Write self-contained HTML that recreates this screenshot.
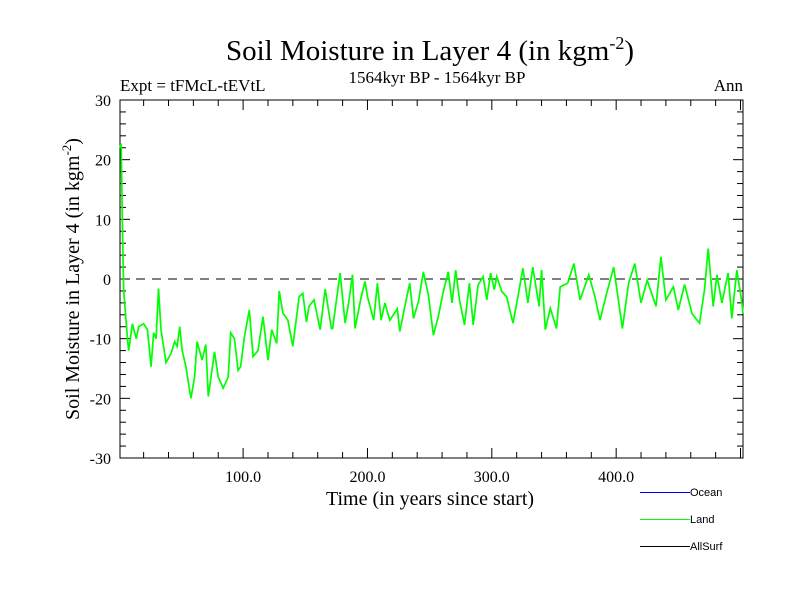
<!DOCTYPE html>
<html><head><meta charset="utf-8"><style>
body{margin:0;background:#fff}
svg{display:block;font-family:"Liberation Serif",serif}
</style></head><body>
<svg id="c" width="800" height="600">
<text x="430" y="60" font-size="29" text-anchor="middle">Soil Moisture in Layer 4 (in kgm<tspan dy="-11" font-size="18">-2</tspan><tspan dy="11">)</tspan></text>
<text x="120" y="91" font-size="17">Expt = tFMcL-tEVtL</text>
<text x="437" y="83" font-size="17" text-anchor="middle">1564kyr BP - 1564kyr BP</text>
<text x="743" y="91" font-size="17" text-anchor="end">Ann</text>
<text x="430" y="505" font-size="20" text-anchor="middle">Time (in years since start)</text>
<text transform="translate(79,279) rotate(-90)" font-size="20" text-anchor="middle">Soil Moisture in Layer 4 (in kgm<tspan dy="-8" font-size="13">-2</tspan><tspan dy="8">)</tspan></text>
<g id="axes"></g>
<g id="series"></g>
<g font-family="Liberation Sans, sans-serif" font-size="11">
<rect x="640" y="492" width="50" height="1" fill="#0000ff"/>
<text x="690" y="496">Ocean</text>
<rect x="640" y="519" width="50" height="1" fill="#00ff00"/>
<text x="690" y="523">Land</text>
<rect x="640" y="546" width="50" height="1" fill="#000000"/>
<text x="690" y="550">AllSurf</text>
</g>
</svg>
<script>
const years=[1,2,3,4,7,8,11,14,16,20,23,26,28,30,32,34,38,42,45,47,49,51,54,58,61,63,67,70,72,77,80,84,88,90,93,96,98,101,105,108,112,116,120,123,127,129,132,136,140,145,148,151,153,157,162,166,171,172,178,182,185,188,190,195,198,200,205,208,211,214,218,224,226,230,234,237,241,245,249,253,257,261,265,268,271,274,278,282,285,289,293,296,299,302,304,308,312,317,321,325,329,333,338,340,343,347,350,352,355,361,366,371,378,383,387,392,398,405,410,415,420,425,432,436,440,446,450,455,461,467,471,474,478,481,485,490,493,497,501,502];
const landValues=[22,22.7,8,-2,-10,-12,-7.5,-10,-8,-7.5,-8.5,-14.7,-9,-10,-1.6,-8.5,-14,-12.5,-10.5,-11.3,-8,-12,-14.7,-20,-16.4,-10.5,-13.6,-11,-19.7,-12.2,-16.4,-18.3,-16.4,-9,-10,-15.3,-14.7,-9.7,-5.2,-13,-12,-6.3,-13.6,-8.5,-10.8,-2,-5.7,-6.9,-11.3,-3,-2.4,-7.2,-4.6,-3.5,-8.5,-1.7,-8.3,-8.3,1,-7.4,-3.8,0.7,-8.3,-3,-0.4,-3,-6.9,-0.7,-6.9,-4,-6.9,-5,-8.8,-4.6,-0.7,-6.6,-3.8,1.2,-2.7,-9.4,-6.3,-2.1,1.2,-4,1.5,-3.5,-7.7,-0.7,-7.7,-1,0.4,-3.5,1,-1.8,0.4,-2.1,-3,-7.4,-3,1.8,-4,2,-4.6,1.5,-8.5,-4.9,-6.9,-8.3,-1.3,-0.7,2.6,-3.5,0.7,-3,-6.9,-2.7,2,-8.3,-0.7,2.6,-4,-0.2,-4.6,3.7,-3.5,-1.3,-5.2,-0.9,-5.8,-7.4,-1.8,5.1,-4.6,0.7,-4,1,-6.6,1.5,-3.8,-5.8];
const yTicks=[-30,-20,-10,0,10,20,30];
const xTickLabels=[100,200,300,400];
const NS='http://www.w3.org/2000/svg';
const L=120,R=743,T=100,B=458;
const xs=t=>L+(t-1)*(R-L)/(502-1);
const ys=v=>B-(v+30)*(B-T)/60;
function mk(tag,attrs,parent){const e=document.createElementNS(NS,tag);for(const k in attrs)e.setAttribute(k,attrs[k]);parent.appendChild(e);return e;}
const ax=document.getElementById('axes');
const fr=mk('rect',{x:L,y:T,width:R-L,height:B-T,fill:'none',stroke:'#000','stroke-width':1},ax);


for(let v=-30;v<=30;v+=2){const y=ys(v);const len=v%10===0?10:6;
 mk('line',{x1:L,y1:y,x2:L+len,y2:y,stroke:'#000'},ax);mk('line',{x1:R,y1:y,x2:R-len,y2:y,stroke:'#000'},ax);}
for(let t=20;t<=500;t+=20){const x=xs(t);const len=t%100===0?10:6;
 mk('line',{x1:x,y1:B,x2:x,y2:B-len,stroke:'#000'},ax);mk('line',{x1:x,y1:T,x2:x,y2:T+len,stroke:'#000'},ax);}
yTicks.forEach(v=>{const e=mk('text',{x:L-9,y:ys(v)+6,'font-size':16,'text-anchor':'end'},ax);e.textContent=v;
 
 });
xTickLabels.forEach(t=>{const e=mk('text',{x:xs(t),y:B+24,'font-size':16,'text-anchor':'middle'},ax);e.textContent=t.toFixed(1);
 
 });
const zl=mk('line',{x1:L,y1:ys(0),x2:R,y2:ys(0),stroke:'#555','stroke-width':1.5,'stroke-dasharray':'9,7'},ax);


const sg=document.getElementById('series');
const p=mk('polyline',{points:years.map((t,i)=>xs(t).toFixed(1)+','+ys(landValues[i]).toFixed(1)).join(' '),fill:'none',stroke:'#00ff00','stroke-width':1.7},sg);


</script>
</body></html>
